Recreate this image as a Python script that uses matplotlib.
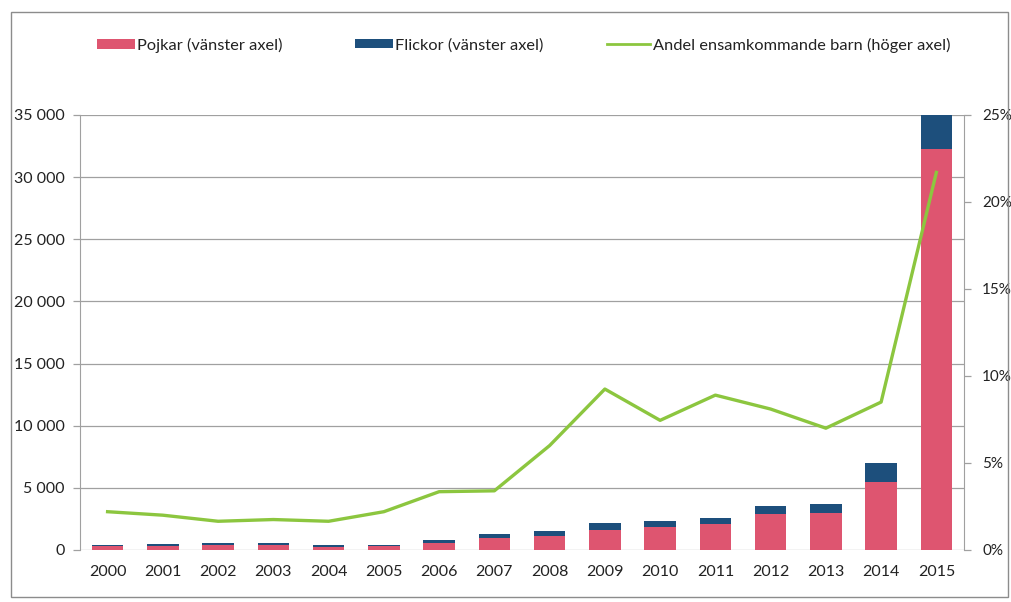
import matplotlib
matplotlib.use("Agg")
import matplotlib.pyplot as plt
from matplotlib.ticker import FuncFormatter, FixedLocator
from matplotlib.patches import Rectangle, Patch
from matplotlib.lines import Line2D
import numpy as np

years = ["2000", "2001", "2002", "2003", "2004", "2005", "2006", "2007",
         "2008", "2009", "2010", "2011", "2012", "2013", "2014", "2015"]
pojkar = [300, 330, 380, 400, 280, 290, 560, 1000,
          1130, 1630, 1830, 2090, 2870, 3010, 5480, 32300]
flickor = [100, 130, 170, 160, 110, 110, 260, 260,
           370, 570, 530, 490, 650, 720, 1520, 2700]
andel = [2.2, 2.0, 1.65, 1.75, 1.65, 2.2, 3.35, 3.4,
         6.0, 9.25, 7.45, 8.9, 8.1, 7.0, 8.5, 21.7]

plt.rcParams['font.family'] = ['Lato', 'DejaVu Sans']

pink = "#de5570"
navy = "#1d4f7c"
green = "#8cc63f"
grid_c = "#a0a0a0"
txt_c = "#222222"

fig = plt.figure(figsize=(10.11, 6.02), dpi=100)
ax = fig.add_axes([0.0791, 0.0864, 0.8744, 0.7226])
x = np.arange(len(years))

ax.bar(x, pojkar, width=0.57, color=pink, zorder=2)
ax.bar(x, flickor, width=0.57, bottom=pojkar, color=navy, zorder=2)

ax.set_xlim(-0.5, len(years) - 0.5)
ax.set_ylim(0, 35000)
ax.set_yticks(np.arange(0, 35001, 5000))
ax.yaxis.set_major_formatter(FuncFormatter(lambda v, p: f"{int(v):,}".replace(",", " ")))
ax.grid(axis="y", color=grid_c, linewidth=0.9, zorder=0)
ax.set_xticks(x)
ax.set_xticklabels(years)
ax.tick_params(axis="x", length=0, labelsize=11.5, colors=txt_c, pad=11)
ax.tick_params(axis="y", length=5, width=0.9, color=grid_c, labelsize=11.5,
               labelcolor=txt_c, pad=6)
for k, s in ax.spines.items():
    s.set_visible(k == "left")
ax.spines["left"].set_color(grid_c)

ax2 = ax.twinx()
ax2.plot(x, andel, color=green, linewidth=2.4, zorder=3)
ax2.set_ylim(0, 25)
ax2.yaxis.set_major_locator(FixedLocator(np.arange(0, 26, 5)))
ax2.yaxis.set_major_formatter(FuncFormatter(lambda v, p: f"{int(v)}%"))
ax2.tick_params(axis="y", length=5, width=0.9, labelsize=11, labelcolor=txt_c,
                color=grid_c, pad=8)
for k, s in ax2.spines.items():
    s.set_visible(k == "right")
ax2.spines["right"].set_color(grid_c)

# legend entries placed along the top
entries = [
    (Patch(facecolor=pink), "Pojkar (vänster axel)", 0.0959, 2.33),
    (Patch(facecolor=navy), "Flickor (vänster axel)", 0.351, 2.33),
    (Line2D([], [], color=green, linewidth=2), "Andel ensamkommande barn (höger axel)",
     0.6004, 2.64),
]
for handle, label, xpos, hlen in entries:
    fig.legend([handle], [label], loc="center left", bbox_to_anchor=(xpos, 0.925),
               frameon=False, fontsize=11.75, handlelength=hlen, handleheight=0.5,
               handletextpad=0.15, borderpad=0, borderaxespad=0,
               labelcolor=txt_c)

# outer frame of the chart area
fig.patches.append(Rectangle((0.0109, 0.0083), 0.986, 0.972, transform=fig.transFigure,
                             fill=False, edgecolor="#8c8c8c", linewidth=1.0))

fig.savefig("out.png", dpi=100)
